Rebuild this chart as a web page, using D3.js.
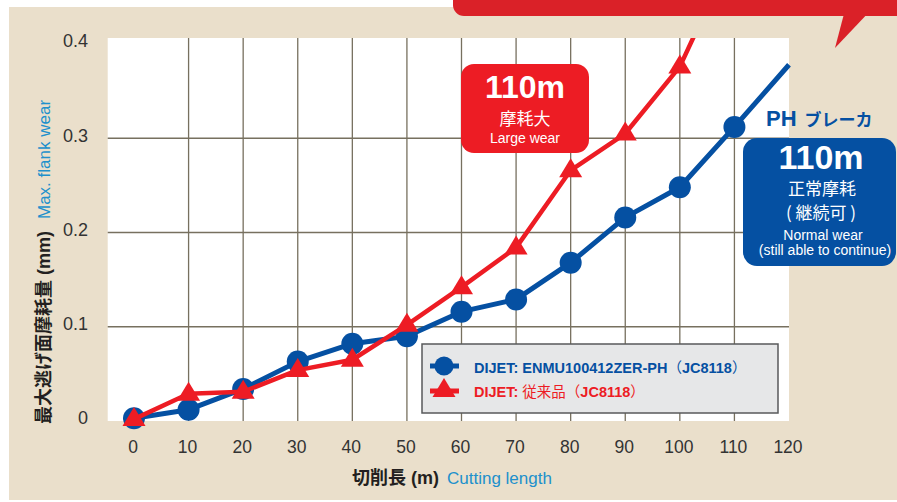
<!DOCTYPE html>
<html><head><meta charset="utf-8">
<script src="https://cdn.jsdelivr.net/npm/d3@7"></script>
<style>
html,body{margin:0;padding:0;background:#fff;}
svg{display:block;}
text{font-family:"Liberation Sans",Arial,sans-serif;}
.cjk{font-family:"Noto Sans CJK JP","Noto Sans CJK SC",sans-serif;}
</style></head>
<body>
<script>
// ---- data ----
const cuttingLength = [0,10,20,30,40,50,60,70,80,90,100,110];
const phWear = [0.003,0.012,0.034,0.063,0.082,0.090,0.116,0.129,0.168,0.216,0.248,0.312];
const phTail = [[110,0.312],[120,0.378]];
const convLength = [0,10,20,30,40,50,60,70,80,90,100];
const convWear = [0.002,0.029,0.031,0.054,0.065,0.102,0.142,0.184,0.266,0.305,0.376];
const convTail = [[100,0.376],[104.5,0.432]];
const xTicks = [0,10,20,30,40,50,60,70,80,90,100,110,120];
const yTicks = [0,0.1,0.2,0.3,0.4];
const yTickLabels = ["0","0.1","0.2","0.3","0.4"];

const BLUE="#0550a2", RED="#ed1c24", BEIGE="#eadfcb", GRID="#77705f", LBLUE="#2090cc";

const W=897,H=502;
const svg=d3.select("body").append("svg").attr("width",W).attr("height",H);

const x=d3.scaleLinear().domain([0,120]).range([134,789]);
const y=d3.scaleLinear().domain([0,0.4]).range([421,44]);

// background
svg.append("rect").attr("x",9).attr("y",7).attr("width",W-9).attr("height",H-9).attr("fill",BEIGE);

// top banner (cut off)
svg.append("rect").attr("x",453).attr("y",-40).attr("width",480).attr("height",56).attr("rx",11).attr("fill","#da2128");
svg.append("path").attr("d","M845,10 L871,10 L835,48 Z").attr("fill","#da2128");

// plot area
const px0=x(-5)+1, px1=x(120), py0=38, py1=y(0);
svg.append("rect").attr("x",px0).attr("y",py0).attr("width",px1-px0).attr("height",py1-py0).attr("fill","#fff");

// grid
const g=svg.append("g");
g.selectAll("line.v").data(xTicks.filter(d=>d>0&&d<120)).join("line")
 .attr("x1",d=>x(d)).attr("x2",d=>x(d)).attr("y1",py0).attr("y2",py1)
 .attr("stroke",GRID).attr("stroke-width",1.3);
g.selectAll("line.h").data(yTicks.filter(d=>d>0&&d<0.4)).join("line")
 .attr("x1",px0).attr("x2",px1).attr("y1",d=>y(d)).attr("y2",d=>y(d))
 .attr("stroke",GRID).attr("stroke-width",1.3);

// axis labels
svg.append("g").selectAll("text").data(yTicks).join("text")
 .attr("x",88).attr("y",d=>y(d)-3).attr("dy","0.35em").attr("text-anchor","end")
 .attr("font-size",18).attr("fill","#333").text((d,i)=>yTickLabels[i]);
svg.append("g").selectAll("text").data(xTicks).join("text")
 .attr("x",d=>x(d)-1).attr("y",447).attr("dy","0.35em").attr("text-anchor","middle")
 .attr("font-size",17.5).attr("fill","#333").text(d=>d);

// axis titles
const xt=svg.append("text").attr("x",352).attr("y",484).attr("font-size",18);
xt.append("tspan").attr("class","cjk").attr("font-weight","bold").attr("fill","#231f20").text("切削長");
xt.append("tspan").attr("font-weight","bold").attr("fill","#231f20").text(" (m)");
xt.append("tspan").attr("fill",LBLUE).attr("font-size",17).attr("dx",8).text("Cutting length");

const yt=svg.append("text").attr("transform","translate(50,424) rotate(-90)").attr("font-size",18);
yt.append("tspan").attr("class","cjk").attr("font-weight","bold").attr("fill","#231f20").text("最大逃げ面摩耗量");
yt.append("tspan").attr("font-weight","bold").attr("fill","#231f20").text(" (mm)");
yt.append("tspan").attr("fill",LBLUE).attr("font-size",17).attr("dx",12).text("Max. flank wear");

// clip for lines
svg.append("clipPath").attr("id","pc").append("rect").attr("x",px0).attr("y",py0).attr("width",px1-px0+2).attr("height",py1-py0+30);

const line=d3.line().x(d=>x(d[0])).y(d=>y(d[1]));
const phPts=cuttingLength.map((c,i)=>[c,phWear[i]]).concat([phTail[1]]);
const convPts=convLength.map((c,i)=>[c,convWear[i]]).concat([convTail[1]]);

const triPath="M0,-12 L11.5,7 L-11.5,7 Z";

svg.append("path").attr("d",line(phPts)).attr("fill","none").attr("stroke",BLUE).attr("stroke-width",5)
 .attr("stroke-linejoin","round").attr("clip-path","url(#pc)");
svg.append("g").selectAll("circle").data(cuttingLength).join("circle")
 .attr("cx",d=>x(d)).attr("cy",(d,i)=>y(phWear[i])).attr("r",11).attr("fill",BLUE);

svg.append("path").attr("d",line(convPts)).attr("fill","none").attr("stroke",RED).attr("stroke-width",4.5)
 .attr("stroke-linejoin","round").attr("clip-path","url(#pc)");
svg.append("g").selectAll("path").data(convLength).join("path")
 .attr("d",triPath).attr("transform",(d,i)=>`translate(${x(d)},${y(convWear[i])})`).attr("fill",RED);

// legend
const lg=svg.append("g");
lg.append("rect").attr("x",422).attr("y",344).attr("width",356).attr("height",69)
 .attr("fill","#e6e7e8").attr("stroke","#58595b").attr("stroke-width",1.5);
lg.append("line").attr("x1",430).attr("x2",459).attr("y1",366).attr("y2",366).attr("stroke",BLUE).attr("stroke-width",5);
lg.append("circle").attr("cx",444).attr("cy",366).attr("r",9.5).attr("fill",BLUE);
lg.append("line").attr("x1",430).attr("x2",459).attr("y1",391).attr("y2",391).attr("stroke",RED).attr("stroke-width",5);
lg.append("path").attr("d",triPath).attr("transform","translate(444,390)").attr("fill",RED);
const l1=lg.append("text").attr("x",474).attr("y",373).attr("font-size",14.5).attr("font-weight","bold").attr("fill",BLUE);
l1.append("tspan").text("DIJET: ENMU100412ZER-PH");
l1.append("tspan").attr("class","cjk").attr("font-weight","normal").text("（");
l1.append("tspan").text("JC8118");
l1.append("tspan").attr("class","cjk").attr("font-weight","normal").text("）");
const l2=lg.append("text").attr("x",474).attr("y",397).attr("font-size",14.5).attr("font-weight","bold").attr("fill",RED);
l2.append("tspan").text("DIJET: ");
l2.append("tspan").attr("class","cjk").attr("font-weight","normal").text("従来品（");
l2.append("tspan").text("JC8118");
l2.append("tspan").attr("class","cjk").attr("font-weight","normal").text("）");

// red callout
const rc=svg.append("g");
rc.append("rect").attr("x",461).attr("y",64).attr("width",128).attr("height",89).attr("rx",13).attr("fill",RED);
rc.append("text").attr("x",525).attr("y",98).attr("text-anchor","middle").attr("font-size",32).attr("font-weight","bold").attr("fill","#fff").text("110m");
rc.append("text").attr("class","cjk").attr("x",525).attr("y",125).attr("text-anchor","middle").attr("font-size",17).attr("fill","#fff").text("摩耗大");
rc.append("text").attr("x",525).attr("y",143).attr("text-anchor","middle").attr("font-size",14).attr("fill","#fff").text("Large wear");

// PH label
const ph=svg.append("text").attr("x",766).attr("y",126).attr("fill",BLUE).attr("font-weight","bold");
ph.append("tspan").attr("font-size",22).text("PH");
ph.append("tspan").attr("class","cjk").attr("font-size",17).attr("dx",8).text("ブレーカ");

// blue callout
const bc=svg.append("g");
bc.append("rect").attr("x",743).attr("y",138).attr("width",153).attr("height",128).attr("rx",14).attr("fill",BLUE);
bc.append("text").attr("x",821).attr("y",169).attr("text-anchor","middle").attr("font-size",34).attr("font-weight","bold").attr("fill","#fff").text("110m");
bc.append("text").attr("class","cjk").attr("x",822).attr("y",195).attr("text-anchor","middle").attr("font-size",17).attr("fill","#fff").text("正常摩耗");
bc.append("text").attr("class","cjk").attr("x",821).attr("y",219).attr("text-anchor","middle").attr("font-size",17).attr("fill","#fff").text("( 継続可 )");
bc.append("text").attr("x",823).attr("y",240).attr("text-anchor","middle").attr("font-size",14).attr("fill","#fff").text("Normal wear");
bc.append("text").attr("x",825).attr("y",255).attr("text-anchor","middle").attr("font-size",14).attr("fill","#fff").text("(still able to continue)");
</script>
</body></html>
